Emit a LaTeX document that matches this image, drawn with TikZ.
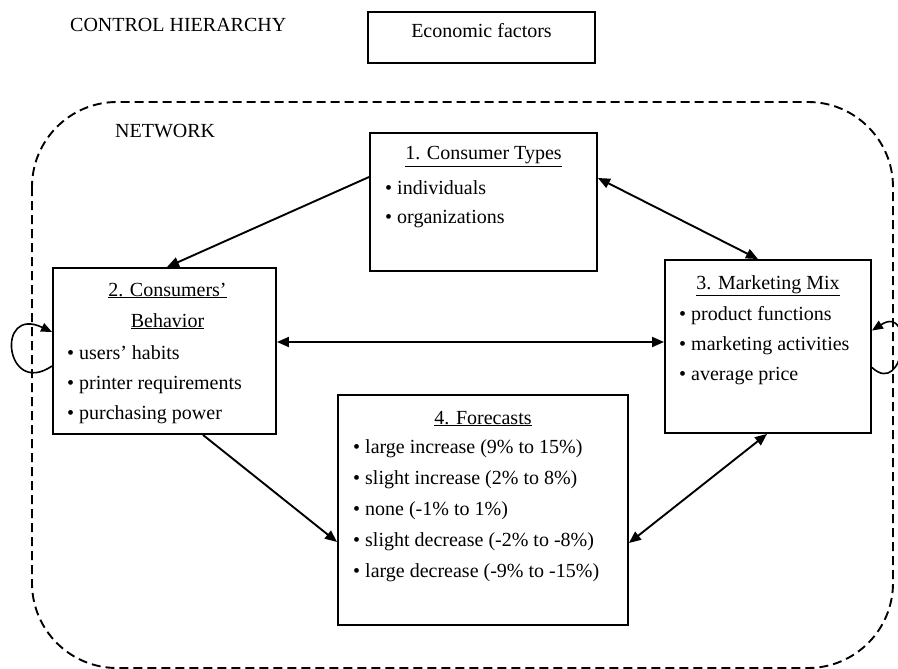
\documentclass[tikz,border=0pt]{standalone}
\usepackage{fontspec}
\setmainfont{Liberation Serif}
\usetikzlibrary{arrows.meta}
\begin{document}
\begin{tikzpicture}[x=1pt,y=-1pt,
  box/.style={draw,line width=1.9pt,rectangle,inner sep=0pt},
  txt/.style={inner sep=0pt,font=\fontsize{20}{24}\selectfont},
  conn/.style={line width=1.9pt,-{Triangle[length=12pt,width=10pt]}},
  bconn/.style={line width=1.9pt,{Triangle[length=12pt,width=10pt]}-{Triangle[length=12pt,width=10pt]}},
  loop/.style={line width=1.6pt,-{Triangle[length=11pt,width=9pt]}},
  netw/.style={draw,line width=1.9pt,dash pattern=on 9pt off 5pt,rounded corners=85pt}]
\clip (0,0) rectangle (898,669);
\useasboundingbox (0,0) rectangle (898,669);

% outer dashed network boundary
\draw[netw] (32,102) rectangle (893,668);

% texts outside boxes
\node[txt,anchor=base west] (ch) at (70,32) {CONTROL HIERARCHY};
\node[txt,anchor=base west] (nw) at (115,138) {NETWORK};

% boxes
\node[box,minimum width=227pt,minimum height=51pt] (b0) at (481.5,37.5) {};
\node[box,minimum width=227pt,minimum height=138pt] (b1) at (483.5,202) {};
\node[box,minimum width=223pt,minimum height=166pt] (b2) at (164.5,351) {};
\node[box,minimum width=206pt,minimum height=173pt] (b3) at (768,346.5) {};
\node[box,minimum width=290pt,minimum height=230pt] (b4) at (483,510) {};

% box texts
\node[txt,anchor=base] (t0) at (481.5,38) {Economic factors};

\node[txt,anchor=base] (t1) at (483.5,160) {\underline{1. Consumer Types}};
\node[txt,anchor=base west] (t1a) at (385,194) {• individuals};
\node[txt,anchor=base west] (t1b) at (385,223) {• organizations};

\node[txt,anchor=base] (t2) at (167.5,296) {\underline{2. Consumers’}};
\node[txt,anchor=base] (t2x) at (167.5,327) {\underline{Behavior}};
\node[txt,anchor=base west] (t2a) at (67,359) {• users’ habits};
\node[txt,anchor=base west] (t2b) at (67,389) {• printer requirements};
\node[txt,anchor=base west] (t2c) at (67,419) {• purchasing power};

\node[txt,anchor=base] (t3) at (768,289) {\underline{3. Marketing Mix}};
\node[txt,anchor=base west] (t3a) at (679,320) {• product functions};
\node[txt,anchor=base west] (t3b) at (679,350) {• marketing activities};
\node[txt,anchor=base west] (t3c) at (679,380) {• average price};

\node[txt,anchor=base] (t4) at (483,424) {\underline{4. Forecasts}};
\node[txt,anchor=base west] (t4a) at (353,453) {• large increase (9\% to 15\%)};
\node[txt,anchor=base west] (t4b) at (353,484) {• slight increase (2\% to 8\%)};
\node[txt,anchor=base west] (t4c) at (353,515) {• none (-1\% to 1\%)};
\node[txt,anchor=base west] (t4d) at (353,546) {• slight decrease (-2\% to -8\%)};
\node[txt,anchor=base west] (t4e) at (353,577) {• large decrease (-9\% to -15\%)};

% connectors
\draw[conn] ([yshift=25pt]b1.west) -- ([xshift=2.5pt]b2.north);
\draw[bconn] ([yshift=24pt]b1.east) -- ([xshift=-10pt]b3.north);
\draw[bconn] ([yshift=9pt]b2.east) -- ([yshift=4.5pt]b3.west);
\draw[conn] ([xshift=38.5pt]b2.south) -- ([yshift=-32pt]b4.west);
\draw[bconn] ([xshift=-1pt]b3.south) -- ([yshift=-33pt]b4.east);

% self loops
\draw[loop] ([yshift=-15pt]b2.west) .. controls (5,398) and (-5,305) .. ([yshift=19pt]b2.west);
\draw[loop] ([yshift=-21pt]b3.east) .. controls (905,398) and (915,303) .. ([yshift=16pt]b3.east);
\end{tikzpicture}
\end{document}
